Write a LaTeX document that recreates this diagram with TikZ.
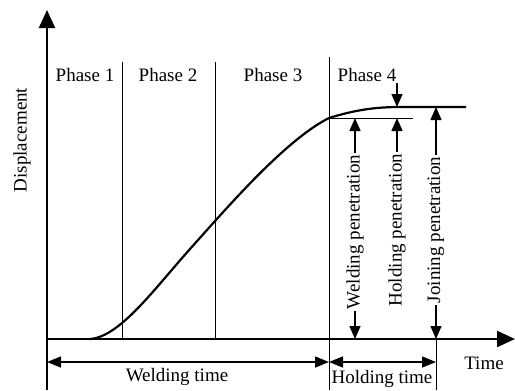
\documentclass[tikz,border=0pt]{standalone}
\usepackage{fontspec}
\setmainfont{Liberation Serif}
\usetikzlibrary{arrows.meta}
\begin{document}
\begin{tikzpicture}[x=1bp,y=-1bp,
  lbl/.style={inner sep=1.5bp, font=\fontsize{19bp}{22bp}\selectfont},
  vlbl/.style={lbl, rotate=90},
  axis/.style={line width=2.2bp, -{Triangle[length=18bp,width=16bp]}},
  phaseline/.style={line width=1bp},
  curve/.style={line width=2.2bp},
  arr/.style={line width=1.4bp, -{Triangle[length=13bp,width=11bp]}},
  darr/.style={line width=1.4bp, {Triangle[length=14bp,width=11bp]}-{Triangle[length=14bp,width=11bp]}}]
\useasboundingbox (0,0) rectangle (515,390);
% coordinates
\coordinate (O) at (47,339);
\coordinate (ytop) at (47,10);
\coordinate (ybot) at (47,390);
\coordinate (xend) at (515,339);
\coordinate (p1t) at (122,62);
\coordinate (p1b) at (122,339);
\coordinate (p2t) at (215,62);
\coordinate (p2b) at (215,339);
\coordinate (p3t) at (329,57);
\coordinate (p3b) at (329,390);
\coordinate (jb) at (436,390);
\coordinate (c0) at (90,339);
\coordinate (c1) at (190,249);
\coordinate (c2) at (329,118);
\coordinate (c3) at (400,107);
\coordinate (c4) at (466,107);
\coordinate (hl) at (413,118);
\coordinate (wpT) at (355,118);
\coordinate (wpB) at (355,339);
\coordinate (hpT) at (397,118);
\coordinate (hpD) at (397,107);
\coordinate (hpS) at (397,83);
\coordinate (jpT) at (436,107);
\coordinate (jpB) at (436,339);
\coordinate (wtL) at (47,362);
\coordinate (wtR) at (329,362);
\coordinate (htR) at (436,362);
% axes
\draw[line width=2.2bp] (ybot) -- (O);
\draw[axis] (O) -- (ytop);
\draw[axis] (O) -- (xend);
% phase lines
\draw[phaseline] (p1t) -- (p1b);
\draw[phaseline] (p2t) -- (p2b);
\draw[phaseline] (p3t) -- (p3b);
\draw[phaseline] (jpB) -- (jb);
\draw[phaseline] (c2) -- (hl);
% curve
\draw[curve] (c0) .. controls (120,337) and (155,288) .. (c1)
  .. controls (225,210) and (285,140) .. (c2)
  .. controls (355,110) and (375,107) .. (c3) -- (c4);
% labels
\node[lbl] (ph1) at (85,75) {Phase 1};
\node[lbl] (ph2) at (168,75) {Phase 2};
\node[lbl] (ph3) at (273,75) {Phase 3};
\node[lbl] (ph4) at (367,75) {Phase 4};
\node[vlbl] (disp) at (22,140) {Displacement};
\node[vlbl] (wp) at (355,232) {Welding penetration};
\node[vlbl] (hp) at (397,230) {Holding penetration};
\node[vlbl] (jp) at (436,230) {Joining penetration};
\node[lbl] (time) at (484,363) {Time};
\node[lbl] (wt) at (177,377) {Welding time};
\node[lbl, inner sep=0pt] (ht) at (382,379) {Holding time};
% penetration arrows
\draw[arr] (wp.east) -- (wpT);
\draw[arr] (wp.west) -- (wpB);
\draw[arr] (hp.east) -- (hpT);
\draw[arr] (hpS) -- (hpD);
\draw[arr] (jp.east) -- (jpT);
\draw[arr] (jp.west) -- (jpB);
% time arrows
\draw[darr] (wtL) -- (wtR);
\draw[darr] (wtR) -- (htR);
\end{tikzpicture}
\end{document}
